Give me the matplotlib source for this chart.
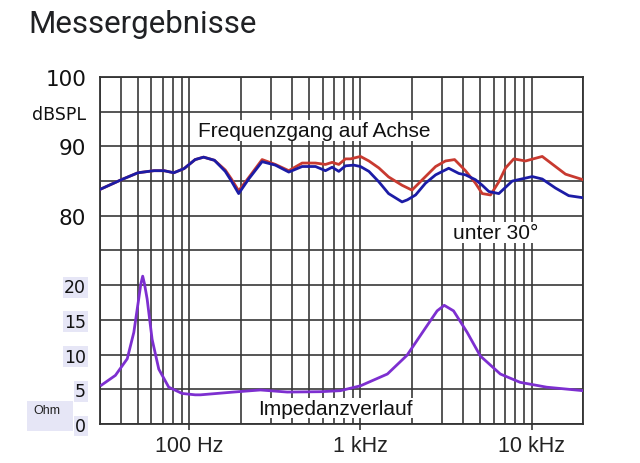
import matplotlib
matplotlib.use("Agg")
import matplotlib.pyplot as plt
from matplotlib.patches import Rectangle
from matplotlib.ticker import LogLocator, NullFormatter
import numpy as np

# Frequenzgang auf Achse (rot)
freq_axis = [30, 40, 50, 62, 71, 81, 93, 108, 121, 140, 162, 176, 194, 222, 266, 318,
             381, 456, 546, 624, 683, 747, 817, 874, 1000, 1120, 1280, 1460, 1750, 2000,
             2300, 2750, 3140, 3550, 4110, 4700, 5150, 5760, 6440, 7050, 7880, 9220,
             11550, 13800, 15800, 20000]
spl_axis = [83.8, 85.2, 86.2, 86.5, 86.5, 86.2, 86.8, 88.1, 88.45, 88.0, 86.6, 85.3,
            83.6, 85.5, 88.1, 87.4, 86.5, 87.6, 87.6, 87.4, 87.7, 87.4, 88.2, 88.2,
            88.55, 87.9, 86.9, 85.6, 84.4, 83.7, 85.2, 87.1, 87.9, 88.1, 86.5, 84.7,
            83.2, 83.0, 84.9, 86.9, 88.2, 87.9, 88.55, 87.1, 86.0, 85.2]

# unter 30 Grad (blau)
freq_30 = [30, 40, 50, 62, 71, 81, 93, 108, 121, 140, 162, 176, 194, 222, 266, 318,
           381, 456, 546, 624, 683, 747, 817, 914, 1000, 1120, 1280, 1460, 1750, 1880,
           2100, 2400, 2750, 3280, 3760, 4110, 4700, 5150, 5630, 6440, 7710, 10100,
           11550, 13800, 16500, 20000]
spl_30 = [83.8, 85.2, 86.2, 86.5, 86.5, 86.2, 86.8, 88.1, 88.45, 88.0, 86.4, 85.0,
          83.2, 85.3, 87.8, 87.3, 86.3, 87.1, 87.1, 86.5, 87.0, 86.4, 87.2, 87.3,
          87.1, 86.4, 84.9, 83.2, 82.0, 82.3, 83.0, 84.7, 85.9, 86.85, 86.1, 85.9,
          85.2, 84.4, 83.5, 83.2, 85.0, 85.65, 85.3, 84.0, 82.9, 82.6]

# Impedanzverlauf (Ohm)
freq_imp = [30.6, 36.9, 43.3, 47.3, 50.5, 52.0, 53.3, 54.6, 56.6, 60.5, 66.2, 75.7,
            90.6, 108, 116, 162, 181, 260, 373, 583, 763, 1000, 1437, 1871, 2455,
            2806, 3089, 3500, 4205, 5020, 6570, 8580, 12270, 20000]
ohm_imp = [5.6, 7.0, 9.4, 13.2, 18.0, 20.2, 21.3, 20.2, 18.0, 12.2, 7.9, 5.3,
           4.4, 4.2, 4.2, 4.5, 4.6, 4.9, 4.6, 4.65, 4.8, 5.5, 7.2, 9.9, 14.2,
           16.3, 17.1, 16.3, 13.2, 9.8, 7.2, 6.0, 5.3, 4.8]

spl_ticks = [50, 55, 60, 65, 70, 75, 80, 85, 90, 95, 100]
spl_labels = ['', '', '', '', '', '', '80', '', '90', 'dBSPL', '100']
ohm_ticks = [0, 5, 10, 15, 20]
freq_ticks = [100, 1000, 10000]
freq_labels = ['100 Hz', '1 kHz', '10 kHz']

grid_col = '#383838'
box_col = '#e6e6f6'

fig = plt.figure(figsize=(6.4, 4.64), dpi=100)
ax = fig.add_axes([0.15625, 0.0841, 0.7547, 0.7478])
ax.set_xscale('log')
ax.set_xlim(30, 20000)
ax.set_ylim(50, 100)

ax.plot(freq_axis, spl_axis, color='#c83a30', lw=2.0, zorder=3)
ax.plot(freq_30, spl_30, color='#1c1ca6', lw=2.0, zorder=4)

ax.set_xticks(freq_ticks, freq_labels)
ax.xaxis.set_minor_locator(LogLocator(base=10, subs=np.arange(2, 10)))
ax.xaxis.set_minor_formatter(NullFormatter())
ax.tick_params(axis='x', which='major', length=4, width=1.2, color=grid_col, pad=4,
               labelsize=15.5, labelcolor='#222222')
ax.tick_params(axis='x', which='minor', length=0)
for lbl in ax.get_xticklabels():
    lbl.set_family('Liberation Sans')

ax.set_yticks(spl_ticks, spl_labels)
ax.tick_params(axis='y', length=0, pad=10, labelsize=15.5, labelcolor='#111111')
for lbl in ax.get_yticklabels():
    lbl.set_family('DejaVu Sans')
    if lbl.get_text() == 'dBSPL':
        lbl.set_fontsize(12.5)

ax.set_axisbelow(True)
ax.grid(True, which='both', axis='x', color=grid_col, lw=1.2)
ax.grid(True, which='major', axis='y', color=grid_col, lw=1.2)
for s in ax.spines.values():
    s.set_color('#333333')
    s.set_linewidth(1.3)

ax2 = ax.twinx()
ax2.set_ylim(0, 50)
ax2.plot(freq_imp, ohm_imp, color='#7d2fd0', lw=2.0)
ax2.yaxis.tick_left()
ax2.set_yticks(ohm_ticks)
ax2.tick_params(axis='y', length=0, pad=10, labelsize=12.5, labelcolor='#111111')
for lbl in ax2.get_yticklabels():
    lbl.set_family('DejaVu Sans')
    lbl.set_bbox(dict(facecolor=box_col, edgecolor='none', pad=1))
for s in ax2.spines.values():
    s.set_visible(False)

txt = dict(family='Liberation Sans', fontsize=15, color='#111111', ha='center', va='center',
           bbox=dict(facecolor='white', edgecolor='none', pad=0.5))
ax.text(538, 92.3, 'Frequenzgang auf Achse', zorder=6, **txt)
ax.text(6190, 77.6, 'unter 30°', zorder=6, **txt)
ax2.text(714, 2.3, 'Impedanzverlauf', zorder=6, **txt)

# Ohm-Kasten links unten
fig.patches.append(Rectangle((27 / 640, 1 - 432 / 464), 46 / 640, 30 / 464,
                             transform=fig.transFigure, facecolor=box_col,
                             edgecolor='none'))
fig.text(33 / 640, 1 - 405 / 464, 'Ohm', fontsize=9, family='Liberation Sans',
         va='top', ha='left', color='#222222')

fig.text(28 / 640, 1 - 33 / 464, 'Messergebnisse', fontsize=22.5, family='Roboto',
         color='#202124', va='baseline', ha='left')

fig.savefig('out.png', dpi=100)
